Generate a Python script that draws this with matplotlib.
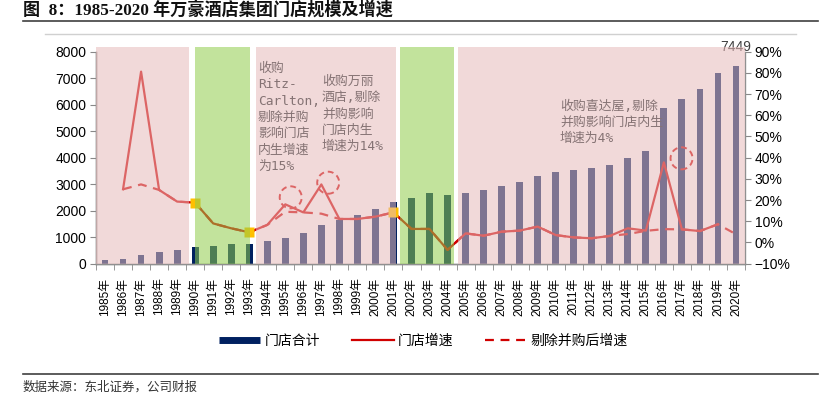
import matplotlib
matplotlib.use('Agg')
import matplotlib.pyplot as plt
import numpy as np
from matplotlib.lines import Line2D
from matplotlib.patches import Ellipse
from matplotlib.ticker import FixedLocator, FuncFormatter

nan = np.nan
years = list(range(1985, 2021))
year_labels = [f'{y}年' for y in years]
stores = [128, 177, 340, 430, 505, 618, 670, 730, 755, 845,
          970, 1147, 1449, 1638, 1838, 2052, 2328, 2491, 2656, 2581,
          2680, 2770, 2932, 3094, 3321, 3449, 3536, 3623, 3725, 4000,
          4253, 5875, 6226, 6579, 7196, 7449]
growth = [nan, 25.1, 80.6, 24.8, 19.3, 18.8, 9.0, 6.7, 4.8, 8.3,
          18.0, 14.2, 27.4, 11.1, 11.1, 12.2, 14.2, 6.4, 6.4, -3.5,
          4.3, 3.2, 5.1, 5.6, 7.5, 3.5, 2.4, 2.0, 3.1, 6.7,
          5.6, 37.8, 6.2, 5.4, 8.6, nan]
organic = [nan, 25.1, 27.4, 24.8, 19.3, 18.8, 9.0, 6.7, 4.8, 8.3,
           14.5, 14.2, 13.6, 11.1, 11.1, 12.2, 14.2, 6.4, 6.4, -3.5,
           4.3, 3.2, 5.1, 5.6, 7.5, 3.5, 2.4, 2.0, 3.1, 4.0,
           5.5, 6.3, 6.2, 5.4, 8.6, 3.9]
marker_years = [1990, 1993, 2001]
# shaded periods (start, end in category units) and colours
periods = [(-0.5, 4.66, '#e7baba'), (4.99, 8.04, '#90cc4b'),
           (8.37, 16.14, '#e7baba'), (16.36, 19.36, '#90cc4b'),
           (19.58, 35.5, '#e7baba')]
circles = [(10.3, 21.3), (12.38, 28.2), (31.98, 39.7)]
notes = [(8.48, 85.0, '收购\nRitz-\nCarlton,\n剔除并购\n影响门店\n内生增速\n为15%'),
         (12.03, 79.0, '收购万丽\n酒店,剔除\n并购影响\n门店内生\n增速为14%'),
         (25.23, 67.5, '收购喜达屋,剔除\n并购影响门店内生\n增速为4%')]

navy = '#002060'
red = '#d00000'
x = np.arange(len(years))

fig = plt.figure(figsize=(8.35, 3.96), dpi=100)
ax1 = fig.add_axes([96/835, 1-263.7/396, (745-96)/835, (263.7-51.7)/396])
ax2 = ax1.twinx()

ax1.bar(x, stores, width=0.38, color=navy, zorder=2)
ax1.set_xlim(-0.5, 35.5)
ax1.set_ylim(0, 8000)
ax1.set_yticks(np.arange(0, 8001, 1000))
ax1.tick_params(axis='y', direction='out', length=4, color='#888888', labelsize=10, pad=3)
ax1.set_xticks(x)
ax1.set_xticklabels(year_labels, rotation=90, family=['Liberation Sans', 'Noto Sans CJK SC'], fontsize=8.5)
ax1.xaxis.set_minor_locator(FixedLocator(np.arange(-0.5, 36, 1)))
ax1.tick_params(axis='x', which='major', length=0, pad=10)
ax1.tick_params(axis='x', which='minor', length=4, color='#888888')
for lab in ax1.get_yticklabels():
    lab.set_family('Liberation Sans')

ax1.annotate(f'{stores[-1]}', xy=(x[-1], stores[-1]), xytext=(0, 14), textcoords='offset points',
             ha='center', va='center', fontsize=10, color='#404040', family='Liberation Sans',
             annotation_clip=False, zorder=10)

ax2.plot(x, growth, color=red, lw=1.6, zorder=2)
ax2.plot(x, organic, color=red, lw=1.6, ls=(0, (4, 3)), zorder=2)
mi = [years.index(y) for y in marker_years]
ax2.plot(mi, [growth[i] for i in mi], ls='none', marker='s', ms=6.5, color='#ffc000', mec='none', zorder=2.2)
for cx, cy in circles:
    ax2.add_patch(Ellipse((cx, cy), 1.22, 10.4, fill=False, ec=red, lw=1.4, ls=(0, (3, 2)), zorder=2.1))

for a, b, c in periods:
    ax2.axvspan(a, b, ymin=0, ymax=1.02, color=c, alpha=0.55, lw=0, zorder=5, clip_on=False)

for nx, ny, t in notes:
    ax2.text(nx, ny, t, ha='left', va='top', fontsize=9.3, color='#857374',
             family=['DejaVu Sans Mono', 'Noto Sans CJK SC'], linespacing=1.32, zorder=6)

ax2.set_ylim(-10, 90)
ax2.set_yticks(np.arange(-10, 91, 10))
ax2.yaxis.set_major_formatter(FuncFormatter(lambda v, p: f'{v:.0f}%'.replace('-', '−')))
ax2.tick_params(axis='y', direction='out', length=4, color='#888888', labelsize=10, pad=3)
for lab in ax2.get_yticklabels():
    lab.set_family('Liberation Sans')

for ax in (ax1, ax2):
    ax.spines['top'].set_visible(False)
    for s in ('left', 'right', 'bottom'):
        ax.spines[s].set_color('#909090')
        ax.spines[s].set_linewidth(1.0)
ax1.spines['right'].set_visible(False)

handles = [Line2D([], [], color=navy, lw=5, solid_capstyle='butt'),
           Line2D([], [], color=red, lw=1.6),
           Line2D([], [], color=red, lw=1.6, ls=(0, (4, 3)))]
fig.legend(handles, ['门店合计', '门店增速', '剔除并购后增速'], loc='center',
           bbox_to_anchor=(0.507, 0.139), ncol=3, frameon=False, handlelength=3.0,
           handletextpad=0.3, columnspacing=2.3,
           prop={'family': 'Noto Sans CJK SC', 'size': 10})

fig.text(23/835, 1-10/396, '图  8：1985-2020 年万豪酒店集团门店规模及增速', ha='left', va='center',
         fontsize=12.3, fontweight='bold', family=['Liberation Serif', 'Noto Sans CJK SC'], color='#111111')
fig.add_artist(Line2D([23/835, 818/835], [1-21/396, 1-21/396], color='#404040', lw=1.2))
fig.add_artist(Line2D([45/835, 796/835], [1-34/396, 1-34/396], color='#d0d0d0', lw=1.0))
fig.add_artist(Line2D([23/835, 818/835], [1-374/396, 1-374/396], color='#404040', lw=1.2))
fig.text(23/835, 1-387/396, '数据来源：东北证券，公司财报', ha='left', va='center',
         fontsize=9, family='Noto Sans CJK SC', color='#333333')

fig.savefig('out.png', dpi=100)
